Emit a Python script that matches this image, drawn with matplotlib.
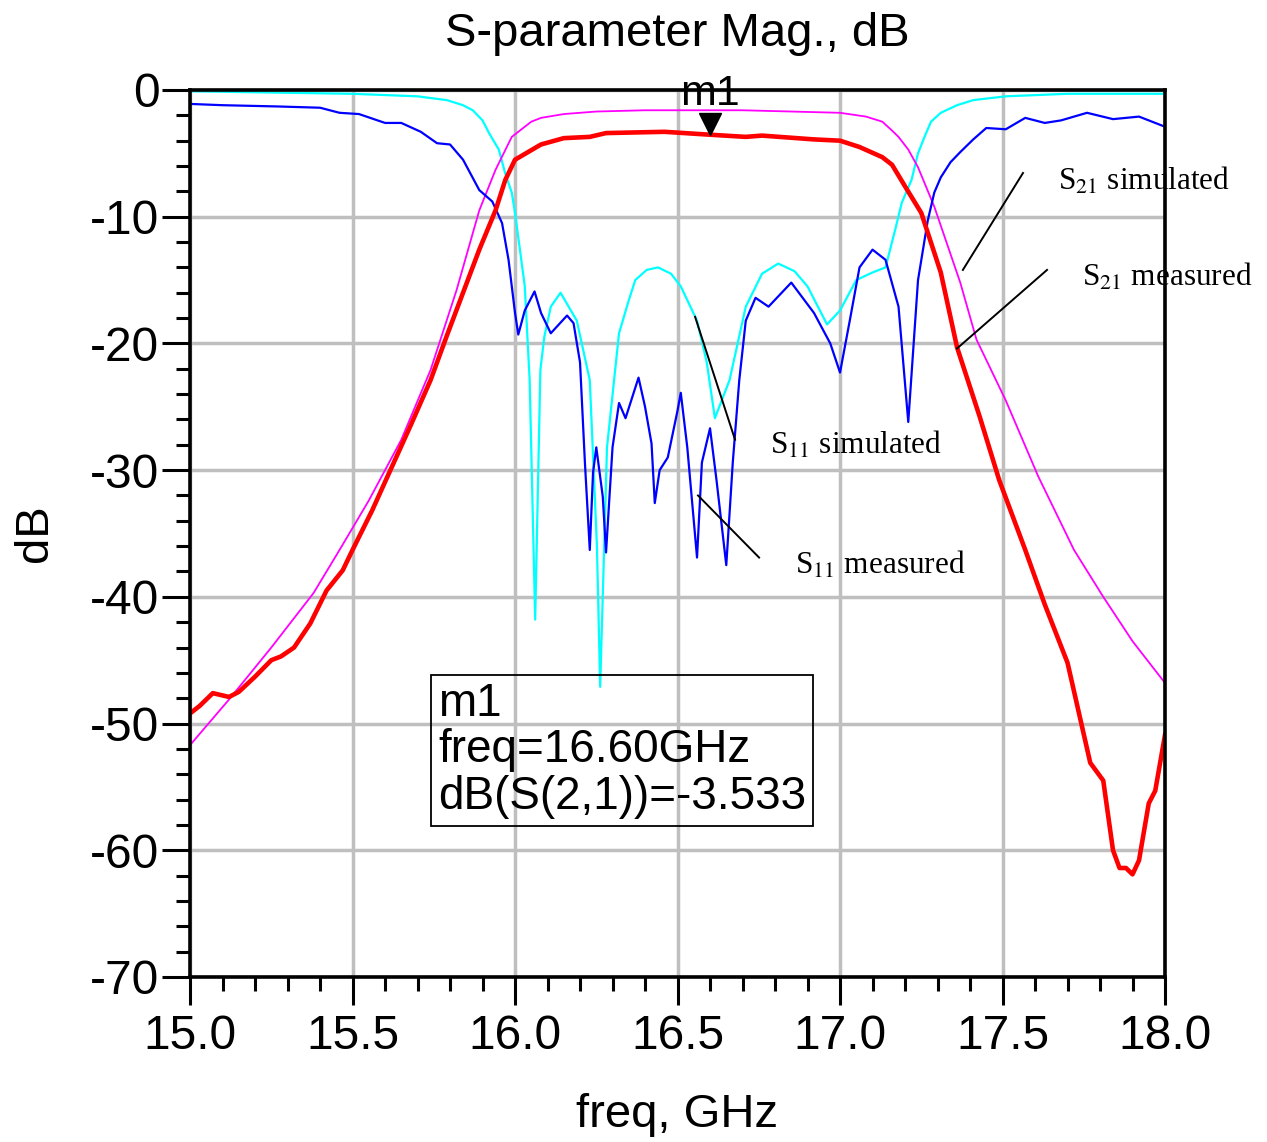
import matplotlib
matplotlib.use("Agg")
import matplotlib.pyplot as plt
from matplotlib.ticker import MultipleLocator
from matplotlib.transforms import offset_copy

plt.rcParams['font.family'] = ['Liberation Sans', 'DejaVu Sans']
plt.rcParams['mathtext.fontset'] = 'stix'
plt.rcParams['axes.unicode_minus'] = False

# S21 simulated (magenta)
f_s21_sim = [15.0, 15.12, 15.25, 15.38, 15.46, 15.55, 15.65, 15.74, 15.82, 15.89, 15.94, 15.99,
             16.05, 16.08, 16.15, 16.25, 16.4, 16.55, 16.7, 16.85, 17.0, 17.08, 17.13, 17.16,
             17.18, 17.21, 17.24, 17.29, 17.37, 17.42, 17.51, 17.61, 17.72, 17.81, 17.9, 18.0]
db_s21_sim = [-51.7, -48.1, -44.0, -39.7, -36.3, -32.4, -27.6, -22.1, -15.8, -9.5, -6.3, -3.7,
              -2.5, -2.2, -1.9, -1.7, -1.6, -1.6, -1.6, -1.7, -1.8, -2.1, -2.5, -3.2,
              -3.7, -4.7, -6.1, -9.2, -15.2, -19.7, -24.5, -30.5, -36.3, -40.0, -43.5, -46.8]

# S21 measured (red)
f_s21_meas = [15.0, 15.03, 15.07, 15.12, 15.15, 15.2, 15.25, 15.28, 15.32, 15.37, 15.42, 15.47,
              15.5, 15.56, 15.62, 15.68, 15.74, 15.79, 15.84, 15.89, 15.94, 15.97, 16.0, 16.04,
              16.08, 16.15, 16.23, 16.28, 16.46, 16.6, 16.71, 16.76, 16.92, 17.0, 17.06, 17.13,
              17.16, 17.2, 17.25, 17.31, 17.36, 17.43, 17.49, 17.57, 17.63, 17.70, 17.77, 17.81,
              17.84, 17.86, 17.88, 17.90, 17.92, 17.95, 17.97, 18.0]
db_s21_meas = [-49.2, -48.6, -47.6, -47.9, -47.5, -46.3, -45.0, -44.7, -44.0, -42.1, -39.5, -37.9,
               -36.3, -33.2, -29.8, -26.4, -22.9, -19.4, -16.0, -12.6, -9.5, -7.1, -5.5, -4.9,
               -4.3, -3.8, -3.7, -3.4, -3.3, -3.53, -3.7, -3.6, -3.9, -4.0, -4.5, -5.3,
               -5.9, -7.6, -9.7, -14.4, -20.3, -25.8, -30.8, -36.3, -40.6, -45.2, -53.1, -54.5,
               -60.0, -61.4, -61.4, -61.9, -60.8, -56.3, -55.3, -50.9]

# S11 simulated (cyan)
f_s11_sim = [15.0, 15.5, 15.7, 15.79, 15.84, 15.87, 15.90, 15.92, 15.95, 15.97, 15.99, 16.0,
             16.03, 16.045, 16.062, 16.078, 16.09, 16.11, 16.14, 16.19, 16.23, 16.252, 16.262,
             16.283, 16.32, 16.35, 16.37, 16.405, 16.44, 16.48, 16.51, 16.56, 16.59, 16.615,
             16.66, 16.71, 16.76, 16.81, 16.86, 16.90, 16.96, 17.0, 17.05, 17.10, 17.14, 17.17,
             17.19, 17.22, 17.24, 17.26, 17.28, 17.31, 17.36, 17.41, 17.51, 17.7, 18.0]
db_s11_sim = [-0.1, -0.3, -0.5, -0.8, -1.2, -1.6, -2.4, -3.4, -4.7, -6.6, -8.1, -9.7,
              -15.5, -22.9, -41.8, -22.1, -19.5, -17.1, -16.0, -18.2, -22.9, -36.0, -47.1,
              -28.2, -19.2, -16.6, -15.0, -14.2, -14.0, -14.5, -15.5, -18.2, -21.5, -25.9,
              -22.9, -17.1, -14.5, -13.7, -14.3, -15.5, -18.5, -17.4, -15.0, -14.4, -14.0, -11.0,
              -8.9, -7.1, -5.0, -3.7, -2.5, -1.8, -1.2, -0.8, -0.5, -0.3, -0.3]

# S11 measured (blue)
f_s11_meas = [15.0, 15.1, 15.27, 15.4, 15.46, 15.52, 15.6, 15.65, 15.71, 15.76, 15.80, 15.84,
              15.89, 15.93, 15.96, 15.98, 16.0, 16.01, 16.03, 16.06, 16.08, 16.11, 16.16, 16.18,
              16.2, 16.215, 16.23, 16.24, 16.25, 16.27, 16.28, 16.30, 16.32, 16.34, 16.38, 16.40,
              16.42, 16.43, 16.445, 16.47, 16.50, 16.51, 16.53, 16.56, 16.575, 16.60, 16.62,
              16.65, 16.67, 16.69, 16.71, 16.74, 16.78, 16.85, 16.92, 16.97, 17.0, 17.03, 17.06,
              17.10, 17.14, 17.18, 17.21, 17.24, 17.27, 17.29, 17.31, 17.34, 17.37, 17.41, 17.45,
              17.51, 17.57, 17.63, 17.68, 17.76, 17.84, 17.92, 18.0]
db_s11_meas = [-1.1, -1.2, -1.3, -1.4, -1.8, -1.9, -2.6, -2.6, -3.3, -4.2, -4.3, -5.5,
               -7.9, -8.8, -10.5, -13.4, -17.6, -19.3, -17.4, -15.9, -17.6, -19.2, -17.8, -18.4,
               -21.5, -29.4, -36.3, -30.2, -28.2, -32.1, -36.5, -28.2, -24.7, -25.9, -22.7, -25.0,
               -27.9, -32.6, -30.0, -29.0, -25.3, -23.9, -28.2, -36.9, -29.4, -26.7, -30.8,
               -37.5, -29.4, -22.9, -18.2, -16.4, -17.1, -15.2, -17.6, -20.0, -22.3, -18.2, -14.0,
               -12.6, -13.4, -17.1, -26.2, -15.0, -10.3, -8.1, -6.9, -5.7, -4.9, -3.9, -3.0,
               -3.1, -2.2, -2.6, -2.4, -1.8, -2.3, -2.1, -2.9]

marker_f = 16.60
marker_db = -3.533

fig = plt.figure(figsize=(12.67, 11.42), dpi=100)
ax = fig.add_axes([0.15, 0.1445, 0.7695, 0.7767])

ax.plot(f_s11_sim, db_s11_sim, color='#00ffff', lw=1.6)
ax.plot(f_s21_sim, db_s21_sim, color='#ff00ff', lw=1.3)
ax.plot(f_s11_meas, db_s11_meas, color='#0000ff', lw=1.6)
ax.plot(f_s21_meas, db_s21_meas, color='#ff0000', lw=3.3)

ax.set_xlim(15.0, 18.0)
ax.set_ylim(-70, 0)
ax.xaxis.set_major_locator(MultipleLocator(0.5))
ax.xaxis.set_minor_locator(MultipleLocator(0.1))
ax.yaxis.set_major_locator(MultipleLocator(10))
ax.yaxis.set_minor_locator(MultipleLocator(2))
ax.xaxis.set_major_formatter(plt.FormatStrFormatter('%.1f'))
ax.grid(True, which='major', color='#bfbfbf', lw=2.5)
ax.set_axisbelow(True)
ax.tick_params(which='major', length=20, width=2.2, labelsize=34.5, pad=7)
ax.tick_params(which='minor', length=10, width=2.2)
ax.tick_params(axis='y', which='major', pad=2)
for sp in ax.spines.values():
    sp.set_linewidth(2.6)

ax.set_xlabel('freq, GHz', fontsize=34)
ax.set_ylabel('dB', fontsize=34)
ax.xaxis.set_label_coords(0.5, -0.156)
ax.xaxis.label.set_va('center')
ax.yaxis.set_label_coords(-0.159, 0.5)
ax.yaxis.label.set_va('center')
ax.text(0.5, 1.063, 'S-parameter Mag., dB', transform=ax.transAxes,
        ha='center', va='center', fontsize=34)

# marker m1
tr = offset_copy(ax.transData, fig=fig, y=8, units='points')
ax.plot([marker_f], [marker_db], marker='v', color='black', ms=16, transform=tr, clip_on=False)
ax.text(marker_f, marker_db, 'm1', transform=offset_copy(ax.transData, fig=fig, y=15, units='points'),
        ha='center', va='bottom', fontsize=31)

ax.text(15.763, -46.7, 'm1\nfreq=16.60GHz\ndB(S(2,1))=-3.533', fontsize=33,
        ha='left', va='top', linespacing=1.08,
        bbox=dict(boxstyle='square,pad=0.15', fc='none', ec='black', lw=1.3))

# annotation lines
ax.plot([17.563, 17.378], [-6.55, -14.2], color='black', lw=1.4)
ax.plot([17.637, 17.36], [-14.2, -20.4], color='black', lw=1.4)
ax.plot([16.554, 16.677], [-17.9, -27.6], color='black', lw=1.4)
ax.plot([16.563, 16.751], [-32.0, -36.9], color='black', lw=1.4)

serif = ['Liberation Serif', 'DejaVu Serif']
ax.text(17.671, -7.2, r'S$_{21}$ simulated', family=serif, fontsize=22.5, va='center', ha='left')
ax.text(17.745, -14.8, r'S$_{21}$ measured', family=serif, fontsize=22.5, va='center', ha='left')
ax.text(16.785, -28.0, r'S$_{11}$ simulated', family=serif, fontsize=22.5, va='center', ha='left')
ax.text(16.862, -37.5, r'S$_{11}$ measured', family=serif, fontsize=22.5, va='center', ha='left')

fig.savefig('out.png', dpi=100)
